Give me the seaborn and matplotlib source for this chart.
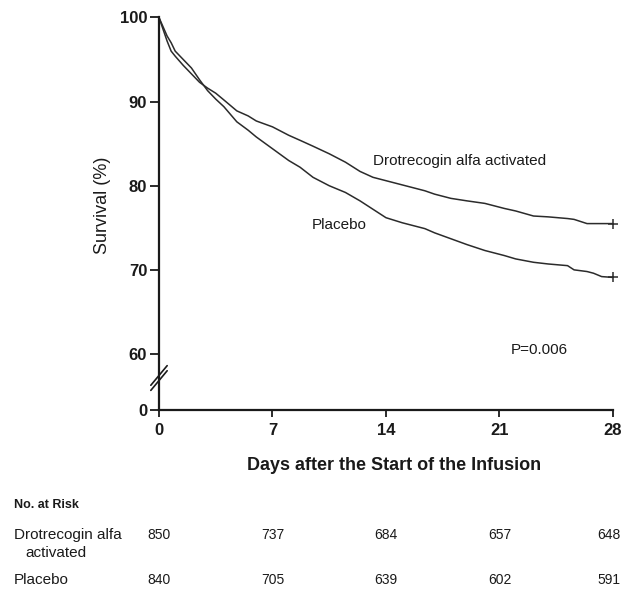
import matplotlib
matplotlib.use("Agg")
import matplotlib.pyplot as plt
from matplotlib import font_manager
import seaborn as sns
import pandas as pd
import numpy as np

# ---------------- data ----------------
days = [0, 0.25, 0.5, 0.75, 1.0, 1.5, 2.0, 2.5, 3.0, 3.5, 4.0, 4.8, 5.5, 6.0,
        7.0, 8.0, 8.7, 9.5, 10.5, 11.5, 12.4, 13.2, 14.0, 15.0, 16.4, 17.0,
        18.0, 19.0, 20.1, 21.3, 22.0, 23.1, 24.0, 25.2, 25.6, 26.4, 26.8,
        27.3, 28.0]
drotrecogin = [100, 98.6, 97.2, 96.0, 95.4, 94.3, 93.3, 92.3, 91.6, 91.0,
               90.2, 88.9, 88.3, 87.7, 87.0, 86.0, 85.4, 84.7, 83.8, 82.8,
               81.7, 81.0, 80.6, 80.1, 79.4, 79.0, 78.5, 78.2, 77.9, 77.3,
               77.0, 76.4, 76.3, 76.1, 76.0, 75.5, 75.5, 75.5, 75.5]
placebo = [100, 98.9, 97.8, 97.0, 96.0, 95.0, 94.0, 92.6, 91.3, 90.3, 89.4,
           87.6, 86.6, 85.8, 84.4, 83.0, 82.2, 81.0, 80.0, 79.2, 78.2, 77.2,
           76.2, 75.6, 74.9, 74.4, 73.7, 73.0, 72.3, 71.7, 71.3, 70.9, 70.7,
           70.5, 70.0, 69.8, 69.6, 69.2, 69.1]

group_names = ["Drotrecogin alfa activated", "Placebo"]
risk_days = [0, 7, 14, 21, 28]
risk_drotrecogin = [850, 737, 684, 657, 648]
risk_placebo = [840, 705, 639, 602, 591]
x_ticks = [0, 7, 14, 21, 28]
y_ticks = [60, 70, 80, 90, 100]
p_value_text = "P=0.006"

# ---------------- style ----------------
sns.set_style("ticks")
names = {f.name for f in font_manager.fontManager.ttflist}
main_font = "Liberation Sans Narrow" if "Liberation Sans Narrow" in names else "Liberation Sans"
plt.rcParams["font.family"] = [main_font, "DejaVu Sans"]
plt.rcParams["axes.linewidth"] = 1.5
ink = "#1a1a1a"

df = pd.DataFrame({
    "day": days * 2,
    "survival": drotrecogin + placebo,
    "group": [group_names[0]] * len(days) + [group_names[1]] * len(days),
})

fig = plt.figure(figsize=(6.23, 5.89), dpi=100)
ax = fig.add_axes([0.2552, 0.3039, 0.7287, 0.6664])

# broken-axis mapping: the "0" tick sits a short gap below 60
zero_pos = 53.34

sns.lineplot(data=df, x="day", y="survival", hue="group",
             palette={group_names[0]: "#2b2b2b", group_names[1]: "#2b2b2b"},
             linewidth=1.1, legend=False, ax=ax, estimator=None)

last = df.groupby("group").tail(1)
sns.scatterplot(data=last, x="day", y="survival", marker="+", s=45,
                color="#2b2b2b", linewidth=1.1, legend=False, ax=ax,
                clip_on=False, zorder=5)

ax.set_xlim(0, 28)
ax.set_ylim(zero_pos, 100)
ax.set_xticks(x_ticks)
ax.set_xticklabels([str(t) for t in x_ticks])
ax.set_yticks([zero_pos] + y_ticks)
ax.set_yticklabels(["0"] + [str(t) for t in y_ticks])
sns.despine(ax=ax)
for s in ["left", "bottom"]:
    ax.spines[s].set_color(ink)
    ax.spines[s].set_linewidth(1.6)

ax.tick_params(axis="y", length=6.5, width=1.3, pad=2, labelsize=12,
               colors=ink)
ax.tick_params(axis="x", length=5, width=1.3, pad=4, labelsize=12,
               colors=ink)
for lab in ax.get_xticklabels() + ax.get_yticklabels():
    lab.set_fontweight("bold")

ax.set_xlabel("Days after the Start of the Infusion", fontsize=13,
              fontweight="bold", color=ink)
ax.xaxis.set_label_coords(0.518, -0.142)
ax.xaxis.label.set_va("center")
ax.set_ylabel("Survival (%)", fontsize=13, color=ink)
ax.yaxis.set_label_coords(-0.125, 0.522)
ax.yaxis.label.set_va("center")

# axis break marks on the y spine
for off in (0.0, 0.013):
    ax.plot([-0.018, 0.018], [0.05 + off, 0.10 + off], transform=ax.transAxes,
            color=ink, lw=1.2, clip_on=False)

# annotations
ax.text(13.2, 82.9, group_names[0], fontsize=11, color=ink, va="center",
        ha="left")
ax.text(9.4, 75.3, "Placebo", fontsize=11, color=ink, va="center", ha="left")
ax.text(21.7, 60.5, p_value_text, fontsize=11, color=ink, va="center",
        ha="left")

# number at risk table
fig.text(14 / 623, 1 - 505 / 589, "No. at Risk", fontsize=9, color=ink,
         va="center", ha="left", fontweight="bold")
fig.text(14 / 623, 1 - 535 / 589, "Drotrecogin alfa", fontsize=11, color=ink,
         va="center", ha="left")
fig.text(25 / 623, 1 - 553 / 589, "activated", fontsize=11, color=ink,
         va="center", ha="left")
fig.text(14 / 623, 1 - 580 / 589, "Placebo", fontsize=11, color=ink,
         va="center", ha="left")
tr = ax.get_xaxis_transform()
for d, a, b in zip(risk_days, risk_drotrecogin, risk_placebo):
    shift = -3 if d == risk_days[-1] else 0
    for val, yy in ((a, (410 - 535) / 392.5), (b, (410 - 580) / 392.5)):
        ax.annotate(str(val), xy=(d, yy), xycoords=tr, xytext=(shift, 0),
                    textcoords="offset points", ha="center", va="center",
                    fontsize=10, color=ink, annotation_clip=False)

fig.savefig("out.png", dpi=100)
